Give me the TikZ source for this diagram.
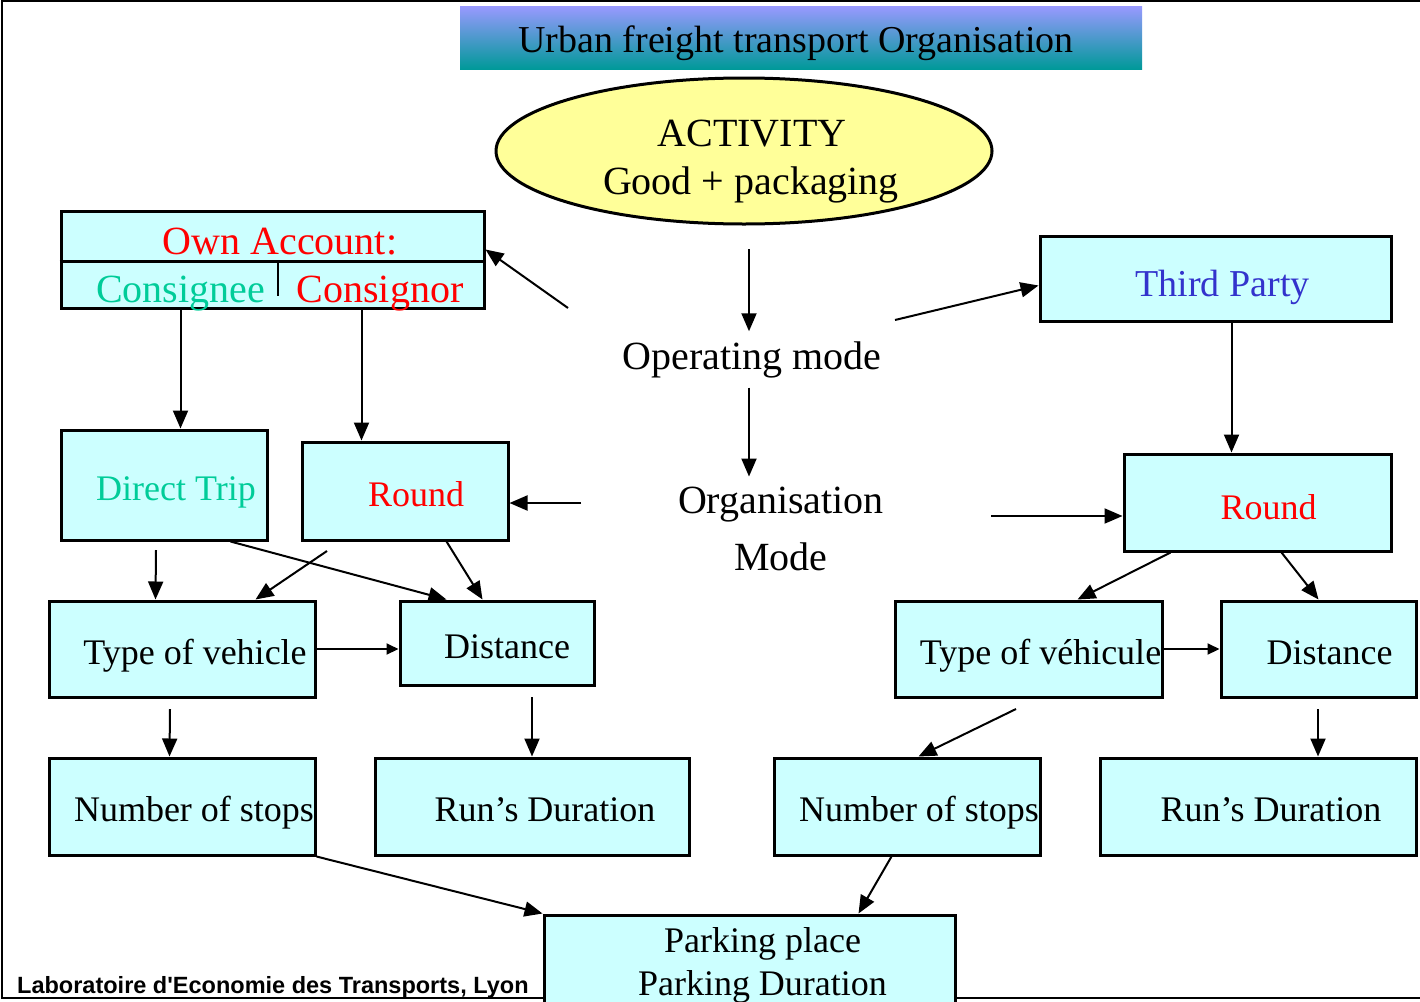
\documentclass[tikz,border=0pt]{standalone}
\usepackage{fontspec}
\setmainfont{Liberation Serif}
\newfontfamily\footfont{Liberation Sans}
\usetikzlibrary{shapes.geometric,arrows.meta,calc}
\definecolor{boxfill}{HTML}{CCFFFF}
\definecolor{ellfill}{HTML}{FFFF99}
\definecolor{tgreen}{HTML}{00CC99}
\definecolor{tblue}{HTML}{3333CC}
\definecolor{tred}{HTML}{FF0000}
\definecolor{titletop}{HTML}{9999FF}
\definecolor{titlebot}{HTML}{009999}
\begin{document}
\begin{tikzpicture}[x=1pt,y=-1pt,
  box/.style={draw=black, line width=3pt, fill=boxfill, inner sep=0pt,
              text height=30pt, text depth=0pt,
              font=\fontsize{36}{43}\selectfont},
  arr/.style={line width=2pt, -{Triangle[length=18pt,width=15pt]}},
  sarr/.style={line width=2pt, -{Triangle[length=12pt,width=11pt]}},
  lbl/.style={inner sep=0pt, outer sep=10pt, anchor=base, font=\fontsize{40}{48}\selectfont},
  big/.style={inner sep=0pt, anchor=base, font=\fontsize{40}{48}\selectfont},
]
\useasboundingbox (0,0) rectangle (1420,1001);
% frame
\draw[line width=2pt] (1420,1) -- (2,1) -- (2,998) -- (1420,998);

% title
\node[top color=titletop, bottom color=titlebot, minimum width=682pt, minimum height=63pt, inner sep=0pt] (title) at (801,37.5) {};
\node[inner sep=0pt, anchor=base, font=\fontsize{38}{44}\selectfont] (titletext) at (796,52) {Urban freight transport Organisation};

% ellipse
\node[ellipse, draw=black, line width=3pt, fill=ellfill, minimum width=496pt, minimum height=146pt, inner sep=0pt] (act) at (744,151) {};
\node[big] (act1) at (752,146) {ACTIVITY};
\node[big] (act2) at (751,194) {Good + packaging};

% central labels
\node[lbl] (om) at (752,369) {Operating mode};
\node[lbl] (org1) at (781,513) {Organisation};
\node[lbl] (org2) at (781,570) {Mode};

% own account box
\node[box, minimum width=423pt, minimum height=97pt] (own) at (272.5,259.5) {};
\draw[line width=3pt] (own.west |- 0,261) -- (own.east |- 0,261);
\draw[line width=2pt] (278,261) -- (278,296);
\node[big, text=tred] (ownT) at (280,254) {Own Account:};
\node[big, text=tgreen] (cgee) at (180.5,302) {Consignee};
\node[big, text=tred] (cgor) at (380,302) {Consignor};

% boxes
\node[box, minimum width=351pt, minimum height=85pt, text=tblue, text height=36pt, font=\fontsize{38}{44}\selectfont] (tp) at (1215.5,278.5) {\hspace*{14pt}Third Party};
\node[box, minimum width=206pt, minimum height=110pt, text=tgreen] (dt) at (164,485) {\hspace*{24pt}Direct Trip};
\node[box, minimum width=206pt, minimum height=98pt, text=tred] (rl) at (405,491) {\hspace*{22pt}Round};
\node[box, minimum width=267pt, minimum height=97pt, text=tred, text height=33pt] (rr) at (1257.5,502.5) {\hspace*{22pt}Round};
\node[box, minimum width=266pt, minimum height=96pt] (tl) at (182,649) {\hspace*{26pt}Type of vehicle};
\node[box, minimum width=194pt, minimum height=84pt] (dl) at (497,643) {\hspace*{20pt}Distance};
\node[box, minimum width=267pt, minimum height=96pt] (tr) at (1028.5,649) {\hspace*{24pt}Type of véhicule};
\node[box, minimum width=195pt, minimum height=96pt] (dr) at (1318.5,649) {\hspace*{22pt}Distance};
\node[box, minimum width=266pt, minimum height=97pt] (nl) at (182,806.5) {\hspace*{24pt}Number of stops};
\node[box, minimum width=314pt, minimum height=97pt] (rdl) at (532,806.5) {\hspace*{26pt}Run’s Duration};
\node[box, minimum width=266pt, minimum height=97pt] (nr) at (907,806.5) {\hspace*{24pt}Number of stops};
\node[box, minimum width=316pt, minimum height=97pt] (rdr) at (1258,806.5) {\hspace*{26pt}Run’s Duration};
\node[box, minimum width=411pt, minimum height=100pt, text height=, text depth=, align=center, font=\fontsize{36}{43}\selectfont] (pk) at (749.5,965) {\hspace*{26pt}Parking place\\\hspace*{26pt}Parking Duration};

% footer
\node[inner sep=0pt, anchor=base west, font=\footfont\bfseries\fontsize{23.5}{27}\selectfont] (foot) at (17,993) {Laboratoire d'Economie des Transports, Lyon};

% free ends
\coordinate (c1) at (749,249);
\coordinate (c2) at (568,308);
\coordinate (c3) at (895,320);
\coordinate (c7) at (581,503);
\coordinate (c8) at (991,516);
\coordinate (c10) at (156,550);
\coordinate (c12) at (327,551);
\coordinate (c15) at (170,709);
\coordinate (c16) at (532,697);
\coordinate (c20) at (1016,709);
\coordinate (c21) at (1318,709);

% connectors
\draw[arr] (c1) -- (c1 |- om.north);
\draw[arr] (om.south -| c1) -- (org1.north -| c1);
\draw[arr] (c2) -- ($(own.north east)!0.4!(own.south east)$);
\draw[arr] (c3) -- ($(tp.west)+(0,7)$);
\draw[arr] (cgee |- own.south) -- ($(dt.north west)+(121,0)$);
\draw[arr] ($(own.south west)+(302,0)$) -- ($(rl.north west)+(61,0)$);
\draw[arr] (c7) -- (rl.east |- c7);
\draw[arr] (c8) -- (rr.west |- c8);
\draw[arr] ($(tp.south west)+(193,0)$) -- ($(rr.north west)+(109,0)$);
\draw[arr] (c10) -- ($(tl.north west)+(108,0)$);
\draw[arr] ($(dt.south west)+(171,0)$) -- ($(dl.north west)+(48,0)$);
\draw[arr] (c12) -- ($(tl.north west)+(208,0)$);
\draw[arr] ($(rl.south west)+(146,0)$) -- ($(dl.north west)+(84,0)$);
\draw[sarr] (tl.east) -- (dl.west |- tl.east);
\draw[arr] (c15) -- ($(nl.north west)+(122,0)$);
\draw[arr] (c16) -- (rdl.north);
\draw[arr] ($(rr.south west)+(48,0)$) -- ($(tr.north west)+(184,0)$);
\draw[arr] ($(rr.south west)+(159,0)$) -- (dr.north);
\draw[sarr] (tr.east) -- (dr.west);
\draw[arr] (c20) -- ($(nr.north west)+(146,0)$);
\draw[arr] (c21) -- (c21 |- rdr.north);
\draw[arr] (nl.south east) -- (pk.north west);
\draw[arr] ($(nr.south west)+(119,0)$) -- ($(pk.north west)+(316,0)$);
\end{tikzpicture}
\end{document}
